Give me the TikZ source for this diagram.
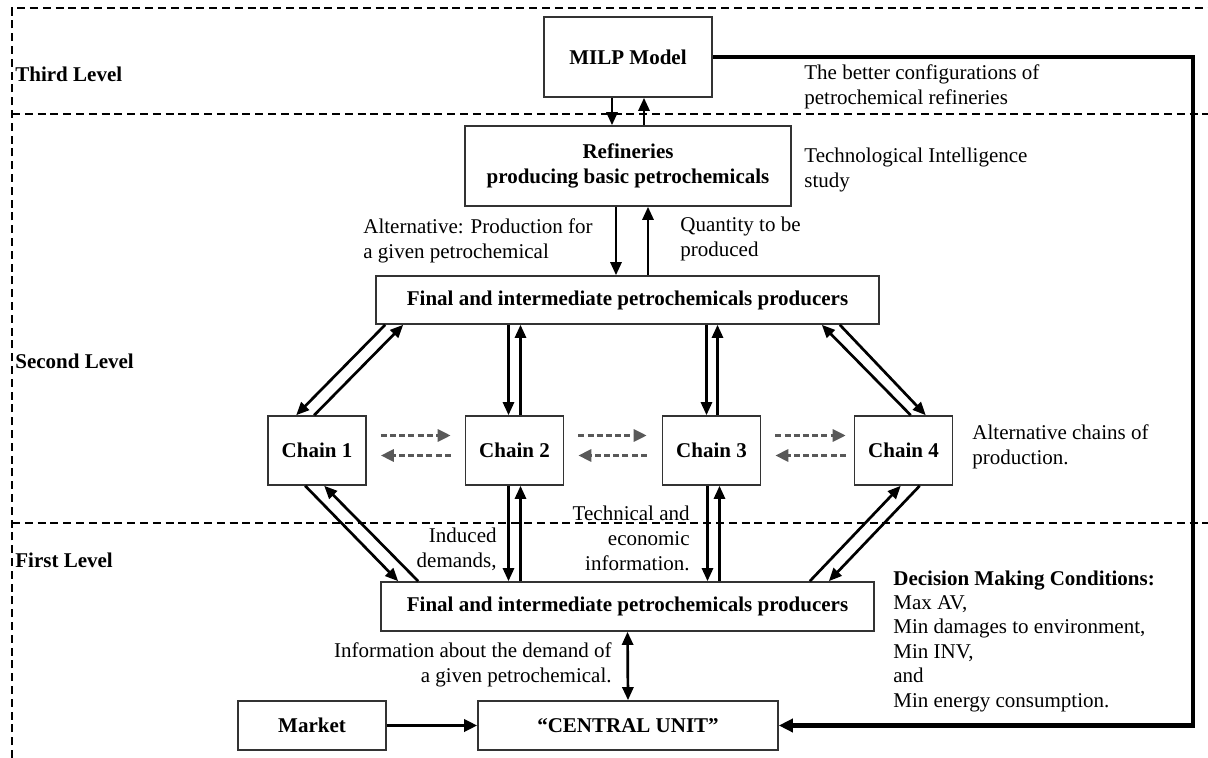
\documentclass[tikz,border=0pt]{standalone}
\usepackage{fontspec}
\setmainfont{Liberation Serif}
\usetikzlibrary{arrows.meta,calc}
\begin{document}
\begin{tikzpicture}[x=0.5pt,y=-0.5pt,
  font=\fontsize{10.5}{12.5}\selectfont,
  box/.style={draw=black!80,line width=0.8pt,inner sep=0pt,align=center,font=\fontsize{10.5}{12.5}\selectfont\bfseries},
  lvl/.style={anchor=west,inner sep=0pt,font=\fontsize{10.5}{12.5}\selectfont\bfseries},
  txt/.style={inner sep=0pt,align=left},
  tip/.tip={Triangle[length=6.5pt,width=5.5pt]},
  arr/.style={line width=1.35pt,-tip},
  darr/.style={line width=1.35pt,tip-tip},
  garr/.style={line width=1.4pt,draw=black!65,dash pattern=on 3pt off 1.6pt,-{Triangle[length=6.5pt,width=6pt,fill=black!65]}},
  sep/.style={line width=1.3pt,dash pattern=on 4pt off 2.4pt},
  fb/.style={line width=2.2pt,-{Triangle[length=7pt,width=6.5pt]}}]
\useasboundingbox (0,0) rectangle (1208,758);

% level separators
\draw[sep] (12,758) -- (12,8) -- (1208,8);
\draw[sep] (12,114) -- (1208,114);
\draw[sep] (12,523) -- (1208,523);

\node[lvl] (l3) at (15,74) {Third Level};
\node[lvl] (l2) at (15,361) {Second Level};
\node[lvl] (l1) at (15,560) {First Level};

% boxes
\node[box,minimum width=84pt,minimum height=40pt] (milp) at (628,57) {MILP Model};
\node[box,minimum width=163pt,minimum height=40pt] (ref) at (628,166) {Refineries\\producing basic petrochemicals};
\node[box,minimum width=251.5pt,minimum height=24pt] (fin1) at (627.5,300) {Final and intermediate petrochemicals producers};
\node[box,minimum width=49pt,minimum height=34.5pt] (ch1) at (317,450.5) {Chain 1};
\node[box,minimum width=49pt,minimum height=34.5pt] (ch2) at (514.5,450.5) {Chain 2};
\node[box,minimum width=49pt,minimum height=34.5pt] (ch3) at (711.5,450.5) {Chain 3};
\node[box,minimum width=49pt,minimum height=34.5pt] (ch4) at (903.5,450.5) {Chain 4};
\node[box,minimum width=246.5pt,minimum height=24.5pt] (fin2) at (627.5,606.5) {Final and intermediate petrochemicals producers};
\node[box,minimum width=74pt,minimum height=24.5pt] (market) at (312,725.5) {Market};
\node[box,minimum width=150pt,minimum height=24.5pt] (central) at (628,725.5) {“CENTRAL UNIT”};

% annotations
\node[txt,anchor=west] (t1) at (804,86.5) {The better configurations of\\petrochemical refineries};
\node[txt,anchor=west] (t2) at (804,169.5) {Technological Intelligence\\study};
\node[txt,anchor=west] (t3) at (363,240.5) {Alternative: Production for\\a given petrochemical};
\node[txt,anchor=west] (t4) at (680,239) {Quantity to be\\produced};
\node[txt,anchor=west] (t5) at (972,446.5) {Alternative chains of\\production.};
\node[inner sep=0pt,align=right,anchor=east] (t6) at (497,549) {Induced\\demands,};
\node[inner sep=0pt,align=right,anchor=east] (t7) at (690,538) {Technical and\\economic\\information.};
\node[inner sep=0pt,align=right,anchor=east] (t8) at (612,664.5) {Information about the demand of\\a given petrochemical.};
\node[inner sep=0pt,align=left,anchor=west,font=\fontsize{10.5}{12.2}\selectfont] (t9) at (893,641)
  {\textbf{Decision Making Conditions:}\\Max AV,\\Min damages to environment,\\Min INV,\\and\\Min energy consumption.};

% MILP <-> refineries
\coordinate (a1) at ($(milp.south)+(-16,0)$);
\coordinate (a2) at ($(milp.south)+(16,0)$);
\draw[arr] (a1) -- (a1 |- ref.north);
\draw[arr] (a2 |- ref.north) -- (a2);

% refineries <-> producers
\coordinate (b1) at ($(ref.south)+(-12,0)$);
\coordinate (b2) at ($(ref.south)+(20,0)$);
\draw[arr] (b1) -- (b1 |- fin1.north);
\draw[arr] (b2 |- fin1.north) -- (b2);

% upper producers <-> chains
\draw[arr] ($(fin1.south west)+(10,0)$) -- ($(ch1.north west)+(29,0)$);
\draw[arr] ($(ch1.north west)+(47,0)$) -- ($(fin1.south west)+(28,0)$);
\coordinate (c2a) at ($(ch2.north)+(-6,0)$);
\coordinate (c2b) at ($(ch2.north)+(6,0)$);
\draw[arr] (c2a |- fin1.south) -- (c2a);
\draw[arr] (c2b) -- (c2b |- fin1.south);
\coordinate (c3a) at ($(ch3.north)+(-5,0)$);
\coordinate (c3b) at ($(ch3.north)+(6,0)$);
\draw[arr] (c3a |- fin1.south) -- (c3a);
\draw[arr] (c3b) -- (c3b |- fin1.south);
\draw[arr] ($(fin1.south east)+(-40,0)$) -- ($(ch4.north west)+(72,0)$);
\draw[arr] ($(ch4.north west)+(57,0)$) -- ($(fin1.south east)+(-58,0)$);

% chains <-> lower producers
\draw[arr] ($(ch1.south west)+(38,0)$) -- ($(fin2.north west)+(18,0)$);
\draw[arr] ($(fin2.north west)+(38,0)$) -- ($(ch1.south west)+(57,0)$);
\coordinate (d2a) at ($(ch2.south)+(-6,0)$);
\coordinate (d2b) at ($(ch2.south)+(6,0)$);
\draw[arr] (d2a) -- (d2a |- fin2.north);
\draw[arr] (d2b |- fin2.north) -- (d2b);
\coordinate (d3a) at ($(ch3.south)+(-4,0)$);
\coordinate (d3b) at ($(ch3.south)+(8,0)$);
\draw[arr] (d3a) -- (d3a |- fin2.north);
\draw[arr] (d3b |- fin2.north) -- (d3b);
\draw[arr] ($(fin2.north east)+(-65,0)$) -- ($(ch4.south west)+(47,0)$);
\draw[arr] ($(ch4.south west)+(66,0)$) -- ($(fin2.north east)+(-46,0)$);

% exchanges between chains
\draw[garr] ($(ch1.east)+(14,-15)$) -- ($(ch2.west)+(-14,-15)$);
\draw[garr] ($(ch2.west)+(-14,5)$) -- ($(ch1.east)+(14,5)$);
\draw[garr] ($(ch2.east)+(14,-15)$) -- ($(ch3.west)+(-15,-15)$);
\draw[garr] ($(ch3.west)+(-15,5)$) -- ($(ch2.east)+(14,5)$);
\draw[garr] ($(ch3.east)+(14,-15)$) -- ($(ch4.west)+(-8,-15)$);
\draw[garr] ($(ch4.west)+(-8,5)$) -- ($(ch3.east)+(14,5)$);

% demand information and central unit
\draw[darr] (fin2.south) -- (central.north);
\draw[line width=1.8pt,-{Triangle[length=6.5pt,width=6pt]}] (market.east) -- (central.west);

% feedback of the MILP model
\coordinate (fbtop) at (1193,57);
\coordinate (fbbot) at (1193,725.5);
\draw[fb] (milp.east) -- (fbtop) -- (fbbot) -- (central.east);
\end{tikzpicture}
\end{document}
